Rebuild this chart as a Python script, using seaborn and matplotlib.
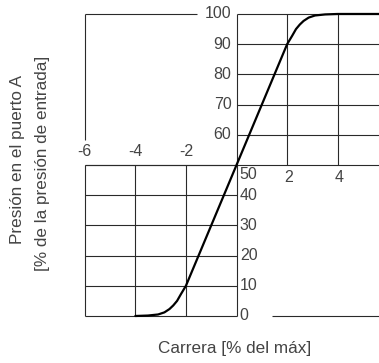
import matplotlib
matplotlib.use("Agg")
import numpy as np
import pandas as pd
import seaborn as sns
import matplotlib.pyplot as plt

# curve values
carrera = [-4.0, -3.5, -3.1, -2.85, -2.65, -2.5, -2.35, -2.2, -2.0, 0.0,
           2.0, 2.2, 2.35, 2.5, 2.65, 2.85, 3.1, 3.5, 4.0, 5.7]
presion = [0.0, 0.15, 0.5, 1.2, 2.3, 3.5, 5.0, 7.2, 10.0, 50.0,
           90.0, 92.8, 95.0, 96.5, 97.7, 98.8, 99.5, 99.85, 100.0, 100.0]

x_ticks_left = [-6, -4, -2]
x_ticks_right = [2, 4]
y_ticks_top = [60, 70, 80, 90, 100]
y_ticks_bottom = [0, 10, 20, 30, 40, 50]

df = pd.DataFrame({"Carrera": carrera, "Presion": presion})

sns.set_theme(style="white")
plt.rcParams["font.family"] = ["Liberation Sans", "DejaVu Sans"]

TXT = "#444444"
LN = "#2a2a2a"
lw = 0.8

fig = plt.figure(figsize=(3.79, 3.63), dpi=100)
ax = fig.add_axes([0.2235, 0.1295, 0.7765, 0.832])
ax.set_xlim(-6, 5.63)
ax.set_ylim(0, 100)
ax.axis("off")

kw = dict(color=LN, lw=lw, clip_on=False, zorder=1)

# upper right grid
for v in [0, 2, 4]:
    ax.vlines(v, 50, 100, **kw)
for h in y_ticks_top:
    ax.hlines(h, 0, 5.63, **kw)
# lower left grid
for v in [-6, -4, -2, 0]:
    ax.vlines(v, 0, 50, **kw)
for h in y_ticks_bottom[1:]:
    ax.hlines(h, -6, 0, **kw)
ax.hlines(0, -6, 0, **kw)
ax.hlines(0, 1.42, 5.63, **kw)
ax.hlines(50, -6, 5.63, **kw)
# open frame upper left
ax.hlines(100, -6, -1.57, **kw)
ax.vlines(-6, 58.3, 100, **kw)

sns.lineplot(data=df, x="Carrera", y="Presion", ax=ax, color="black",
             lw=1.6, sort=False, zorder=3, clip_on=False)

fs = 11.5
for t in y_ticks_top:
    ax.text(-0.2, t, str(t), ha="right", va="center", fontsize=fs, color=TXT)
for t in y_ticks_bottom:
    yy = t - 3 if t == 50 else t
    ax.text(0.13, yy, str(t), ha="left", va="center", fontsize=fs, color=TXT)
for t in x_ticks_left:
    ax.text(t, 54.6, str(t), ha="center", va="center", fontsize=fs, color=TXT)
for t in x_ticks_right:
    ax.text(t + 0.05, 45.7, str(t), ha="center", va="center", fontsize=fs, color=TXT)

lfs = 12.3
fig.text(235 / 379, 1 - 348 / 363, "Carrera [% del máx]", ha="center",
         va="center", fontsize=lfs, color=TXT)
fig.text(18 / 379, 1 - 160 / 363, "Presión en el puerto A", ha="center",
         va="center", rotation=90, fontsize=lfs, color=TXT)
fig.text(43 / 379, 1 - 163 / 363, "[% de la presión de entrada]", ha="center",
         va="center", rotation=90, fontsize=lfs, color=TXT)

fig.savefig("out.png", dpi=100)
